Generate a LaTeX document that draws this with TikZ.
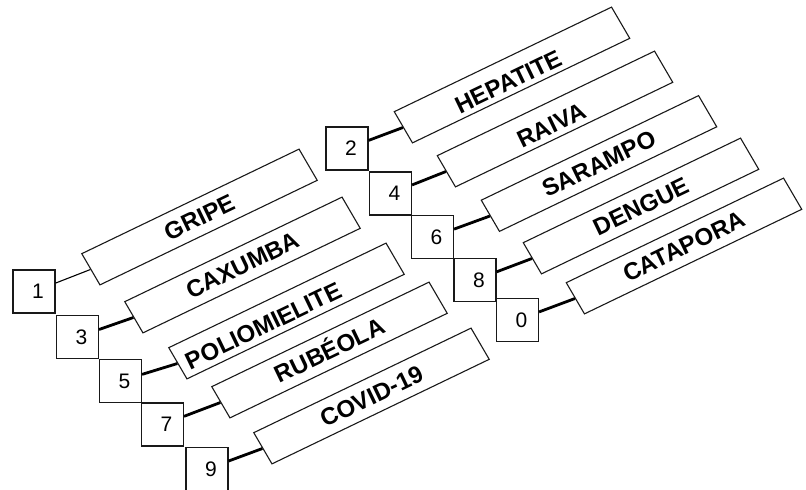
\documentclass[tikz,border=0pt]{standalone}
\usepackage{fontspec}
\setmainfont{Liberation Sans}
\usetikzlibrary{shapes.geometric}
\newcommand\lowtxt[2]{\raisebox{-#1}{#2}}
\begin{document}
\begin{tikzpicture}[x=1pt,y=-1pt,
  numbox/.style={draw=black!90, line width=1.1pt, minimum width=42pt, minimum height=43pt,
    inner sep=0pt, font=\fontsize{21}{21}\selectfont, execute at begin node=\hspace*{8pt}},
  lblbox/.style={trapezium, trapezium left angle=99.3, trapezium right angle=80.7,
    trapezium stretches body=true, draw=black!90, line width=1.1pt,
    minimum width=244pt, minimum height=36pt, inner sep=0pt,
    text height=17.5pt, text depth=0pt,
    rotate=25.7, transform shape, font=\bfseries\fontsize{24}{24}\selectfont},
  conn/.style={line width=2.8pt},
  thinconn/.style={line width=1.1pt}
]
\useasboundingbox (0,0) rectangle (806,490);
% left column
\node[numbox] (n1) at (34,291.5) {1};
\node[numbox] (n3) at (77.5,337) {3};
\node[numbox] (n5) at (120.5,381) {5};
\node[numbox] (n7) at (162.5,424.5) {7};
\node[numbox] (n9) at (207,469) {9};
\node[lblbox] (gripe) at (199.5,217) {GRIPE};
\node[lblbox] (caxumba) at (242.5,265) {CAXUMBA};
\node[lblbox] (polio) at (286.5,311) {\hspace*{-54pt}\lowtxt{3pt}{POLIOMIELITE}};
\node[lblbox] (rubeola) at (329.5,350) {RUBÉOLA};
\node[lblbox] (covid) at (371.5,396) {COVID-19};
% right column
\node[numbox] (n2) at (347,148.5) {2};
\node[numbox] (n4) at (390.5,193.5) {4};
\node[numbox] (n6) at (432.5,237) {6};
\node[numbox] (n8) at (475,280) {8};
\node[numbox] (n0) at (517.5,320) {0};
\node[lblbox] (hepatite) at (512,75) {\hspace*{-12pt}\lowtxt{4pt}{HEPATITE}};
\node[lblbox] (raiva) at (555,119) {\hspace*{-12pt}\lowtxt{4pt}{RAIVA}};
\node[lblbox] (sarampo) at (599,163.5) {SARAMPO};
\node[lblbox] (dengue) at (641,206) {DENGUE};
\node[lblbox] (catapora) at (684,246) {CATAPORA};
% connectors
\draw[thinconn] (n1) -- (gripe.west);
\draw[conn] (n3) -- (caxumba.west);
\draw[conn] (n5) -- (polio.west);
\draw[conn] (n7) -- (rubeola.west);
\draw[conn] (n9) -- (covid.west);
\draw[conn] (n2) -- (hepatite.west);
\draw[conn] (n4) -- (raiva.west);
\draw[conn] (n6) -- (sarampo.west);
\draw[conn] (n8) -- (dengue.west);
\draw[conn] (n0) -- (catapora.west);
\end{tikzpicture}
\end{document}
